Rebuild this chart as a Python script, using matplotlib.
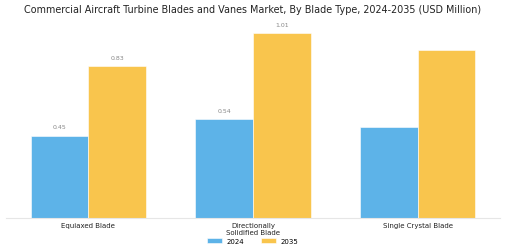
import numpy as np
import matplotlib
matplotlib.use("Agg")
import matplotlib.pyplot as plt

# --- data ---
categories = ["Equiaxed Blade", "Directionally\nSolidified Blade", "Single Crystal Blade"]
values_2024 = [0.45, 0.54, 0.50]
values_2035 = [0.83, 1.01, 0.92]
# only these bars carry a value label in the reference
labels_2024 = ["0.45", "0.54", None]
labels_2035 = ["0.83", "1.01", None]

BLUE = "#5DB3E8"
YELLOW = "#F9C54D"
WIDTH = 0.35

fig = plt.figure(figsize=(5.05, 2.53), dpi=100)
ax = fig.add_axes([0.012, 0.134, 0.978, 0.767])

x = np.arange(len(categories))
bars_a = ax.bar(x - WIDTH / 2, values_2024, WIDTH, color=BLUE, edgecolor="white",
                linewidth=0.4, label="2024")
bars_b = ax.bar(x + WIDTH / 2, values_2035, WIDTH, color=YELLOW, edgecolor="white",
                linewidth=0.4, label="2035")

# value labels above bars
for bars, labels in ((bars_a, labels_2024), (bars_b, labels_2035)):
    for rect, lab in zip(bars, labels):
        if lab is None:
            continue
        ax.text(rect.get_x() + rect.get_width() / 2, rect.get_height() + 0.035, lab,
                ha="center", va="bottom", fontsize=4.5, color="#888888")

ax.set_xlim(-0.5, 2.5)
ax.set_ylim(0, 1.06)
ax.set_xticks(x)
ax.set_xticklabels(categories, fontsize=5, color="#222222", linespacing=1.1)
ax.set_yticks([])
ax.tick_params(axis="x", length=0, pad=3)
for side in ("top", "right", "left"):
    ax.spines[side].set_visible(False)
ax.spines["bottom"].set_color("#e6e6e6")
ax.spines["bottom"].set_linewidth(0.8)

fig.text(0.5, 0.96, "Commercial Aircraft Turbine Blades and Vanes Market, By Blade Type, 2024-2035 (USD Million)",
         ha="center", va="center", fontsize=6.9, color="#222222")

fig.legend(handles=[bars_a, bars_b], labels=["2024", "2035"], loc="center",
           bbox_to_anchor=(0.5, 0.045), ncol=2, frameon=False, fontsize=5,
           handlelength=2.2, handleheight=0.8, columnspacing=2.5, handletextpad=0.6)

fig.savefig("out.png", dpi=100)
